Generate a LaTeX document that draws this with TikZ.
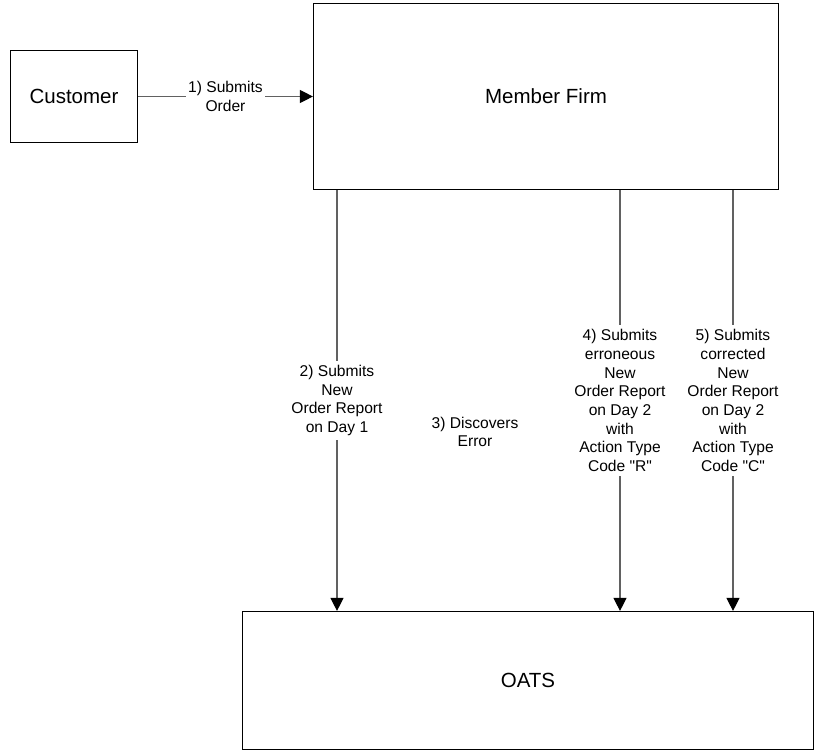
\documentclass[tikz,border=0pt]{standalone}
\usepackage{fontspec}
\setmainfont{Liberation Sans}
\usetikzlibrary{arrows.meta}

\begin{document}
\begin{tikzpicture}[x=1pt, y=-1pt,
	box/.style={draw=black, line width=1.2pt, font=\fontsize{20.5}{24}\selectfont},
	flow/.style={draw=black!62, line width=1.2pt, -{Triangle[length=13pt,width=13pt,color=black,fill=black]}},
	lbl/.style={fill=white, align=center, inner xsep=2pt, inner ysep=4pt, font=\fontsize{15.6}{18.7}\selectfont}]
	\useasboundingbox (0,0) rectangle (819,753);
	\node[box, minimum width=127pt, minimum height=92pt] (cust) at (74,96.5) {Customer};
	\node[box, minimum width=465pt, minimum height=186pt] (firm) at (546,96.5) {Member Firm};
	\node[box, minimum width=571pt, minimum height=138pt] (oats) at (528,680.5) {OATS};
	% x positions of the reports
	\coordinate (day1) at (337,0);
	\coordinate (errR) at (620,0);
	\coordinate (corC) at (733,0);
	\draw[flow] (cust) -- node[lbl] {1) Submits\\Order} (firm);
	\draw[flow] (firm.south -| day1) -- node[lbl] {2) Submits\\New\\Order Report\\on Day 1} (oats.north -| day1);
	\draw[flow] (firm.south -| errR) -- node[lbl] {4) Submits\\erroneous\\New\\Order Report\\on Day 2\\with\\Action Type\\Code \textquotedbl R\textquotedbl} (oats.north -| errR);
	\draw[flow] (firm.south -| corC) -- node[lbl] {5) Submits\\corrected\\New\\Order Report\\on Day 2\\with\\Action Type\\Code \textquotedbl C\textquotedbl} (oats.north -| corC);
	\node[lbl] (disc) at (475,432) {3) Discovers\\Error};
\end{tikzpicture}
\end{document}
